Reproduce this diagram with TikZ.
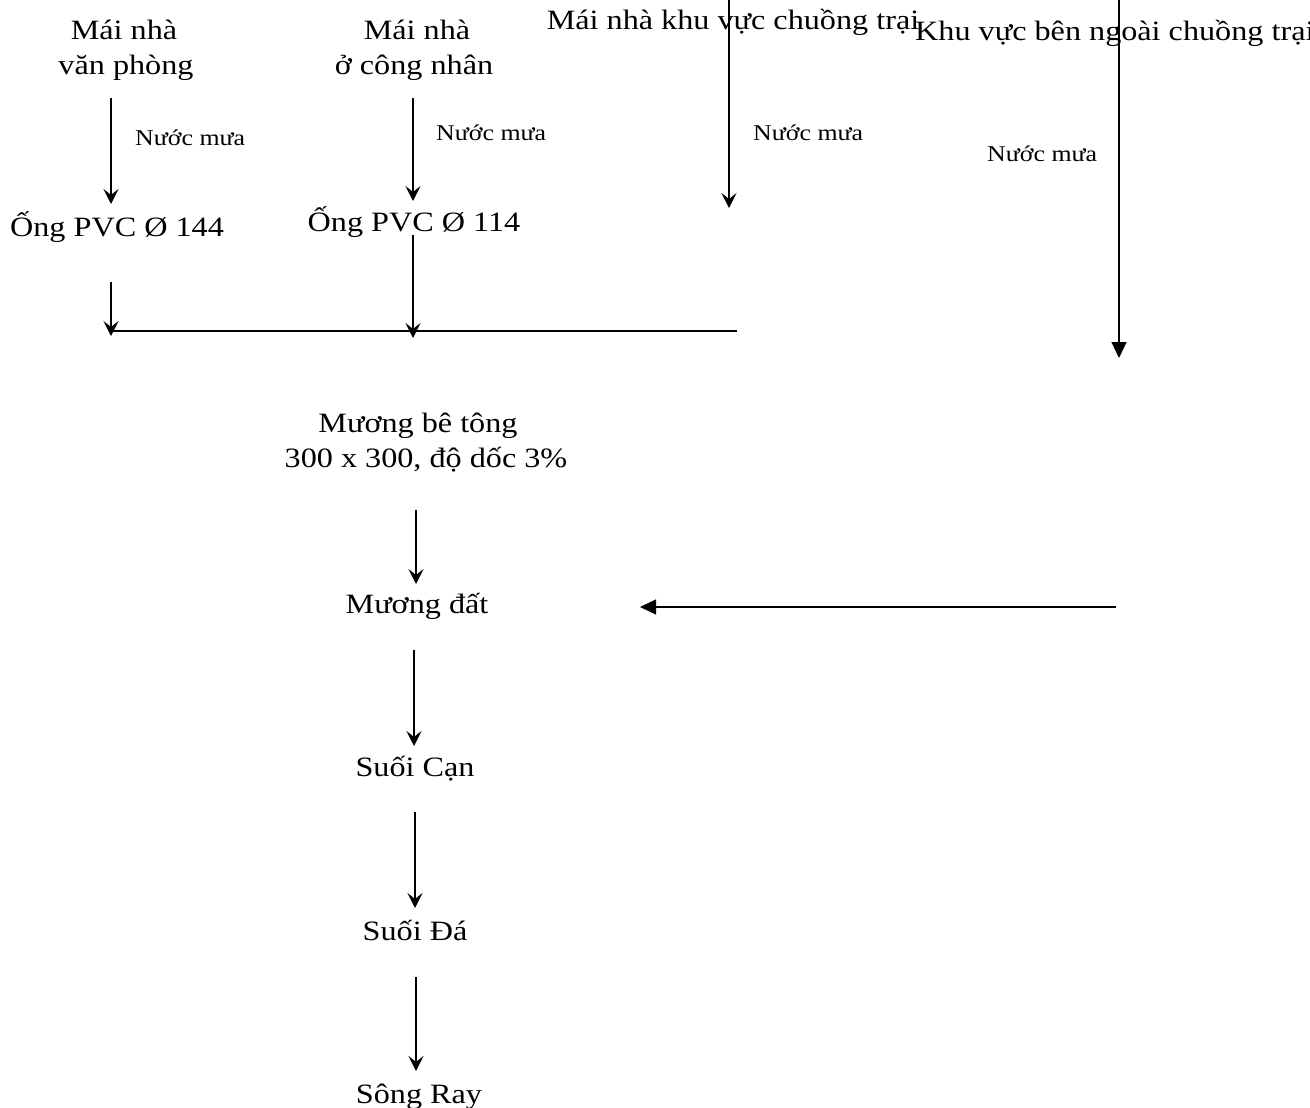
\documentclass[tikz,border=0pt]{standalone}
\usepackage{fontspec}
\setmainfont{Liberation Serif}
\newfontfamily\bigfnt[FakeStretch=1.15]{Liberation Serif}
\usetikzlibrary{arrows.meta}
\begin{document}
\begin{tikzpicture}[x=1pt,y=-1pt,
  big/.style={font=\bigfnt\fontsize{28}{35}\selectfont, inner sep=0pt, align=center},
  small/.style={font=\bigfnt\fontsize{22.5}{27}\selectfont, inner sep=0pt, anchor=base west},
  flow/.style={line width=1.2pt, -{Stealth[length=15pt,width=15pt,inset=6pt]}},
  flowT/.style={line width=1.2pt, -{Triangle[length=16pt,width=15pt]}},
  plain/.style={line width=1.2pt}]
\useasboundingbox (0,0) rectangle (1310,1108);
% texts
\node[big, anchor=base] (m1a) at (124,40) {Mái nhà};
\node[big, anchor=base] (m1b) at (126,75) {văn phòng};
\node[big, anchor=base] (m2a) at (417,40) {Mái nhà};
\node[big, anchor=base] (m2b) at (414,75) {ở công nhân};
\node[big, anchor=base] (m3) at (733,30) {Mái nhà khu vực chuồng trại};
\node[big, anchor=base west] (m4) at (915,41) {Khu vực bên ngoài chuồng trại};
\node[small] (n1) at (135,146) {Nước mưa};
\node[small] (n2) at (436,140) {Nước mưa};
\node[small] (n3) at (753,140) {Nước mưa};
\node[small] (n4) at (987,161) {Nước mưa};
\node[big, anchor=base] (p1) at (117,236) {Ống PVC Ø 144};
\node[big, anchor=base] (p2) at (414,231) {Ống PVC Ø 114};
\node[big, anchor=base] (mb1) at (418,432) {Mương bê tông};
\node[big, anchor=base] (mb2) at (426,467) {300 x 300, độ dốc 3\%};
\node[big, anchor=base] (md) at (417,613) {Mương đất};
\node[big, anchor=base] (sc) at (415,776) {Suối Cạn};
\node[big, anchor=base] (sd) at (415,940) {Suối Đá};
\node[big, anchor=base] (sr) at (419,1103) {Sông Ray};
% connector ends
\coordinate (a1s) at (111,98);  \coordinate (a1e) at (111,204);
\coordinate (a2s) at (413,98);  \coordinate (a2e) at (413,201);
\coordinate (a3s) at (729,0);   \coordinate (a3e) at (729,208);
\coordinate (a4s) at (1119,0);  \coordinate (a4e) at (1119,358);
\coordinate (a5s) at (111,282); \coordinate (a5e) at (111,336);
\coordinate (a6s) at (413,235); \coordinate (a6e) at (413,338);
\coordinate (hL) at (111,331);  \coordinate (hR) at (737,331);
\coordinate (a7s) at (416,510); \coordinate (a7e) at (416,584);
\coordinate (a8s) at (1116,607); \coordinate (a8e) at (640,607);
\coordinate (a9s) at (414,650); \coordinate (a9e) at (414,746);
\coordinate (a10s) at (415,812); \coordinate (a10e) at (415,908);
\coordinate (a11s) at (416,977); \coordinate (a11e) at (416,1071);
% connectors
\draw[flow] (a1s) -- (a1e);
\draw[flow] (a2s) -- (a2e);
\draw[flow] (a3s) -- (a3e);
\draw[flowT] (a4s) -- (a4e);
\draw[flow] (a5s) -- (a5e);
\draw[flow] (a6s) -- (a6e);
\draw[plain] (hL) -- (hR);
\draw[flow] (a7s) -- (a7e);
\draw[flowT] (a8s) -- (a8e);
\draw[flow] (a9s) -- (a9e);
\draw[flow] (a10s) -- (a10e);
\draw[flow] (a11s) -- (a11e);
\end{tikzpicture}
\end{document}
